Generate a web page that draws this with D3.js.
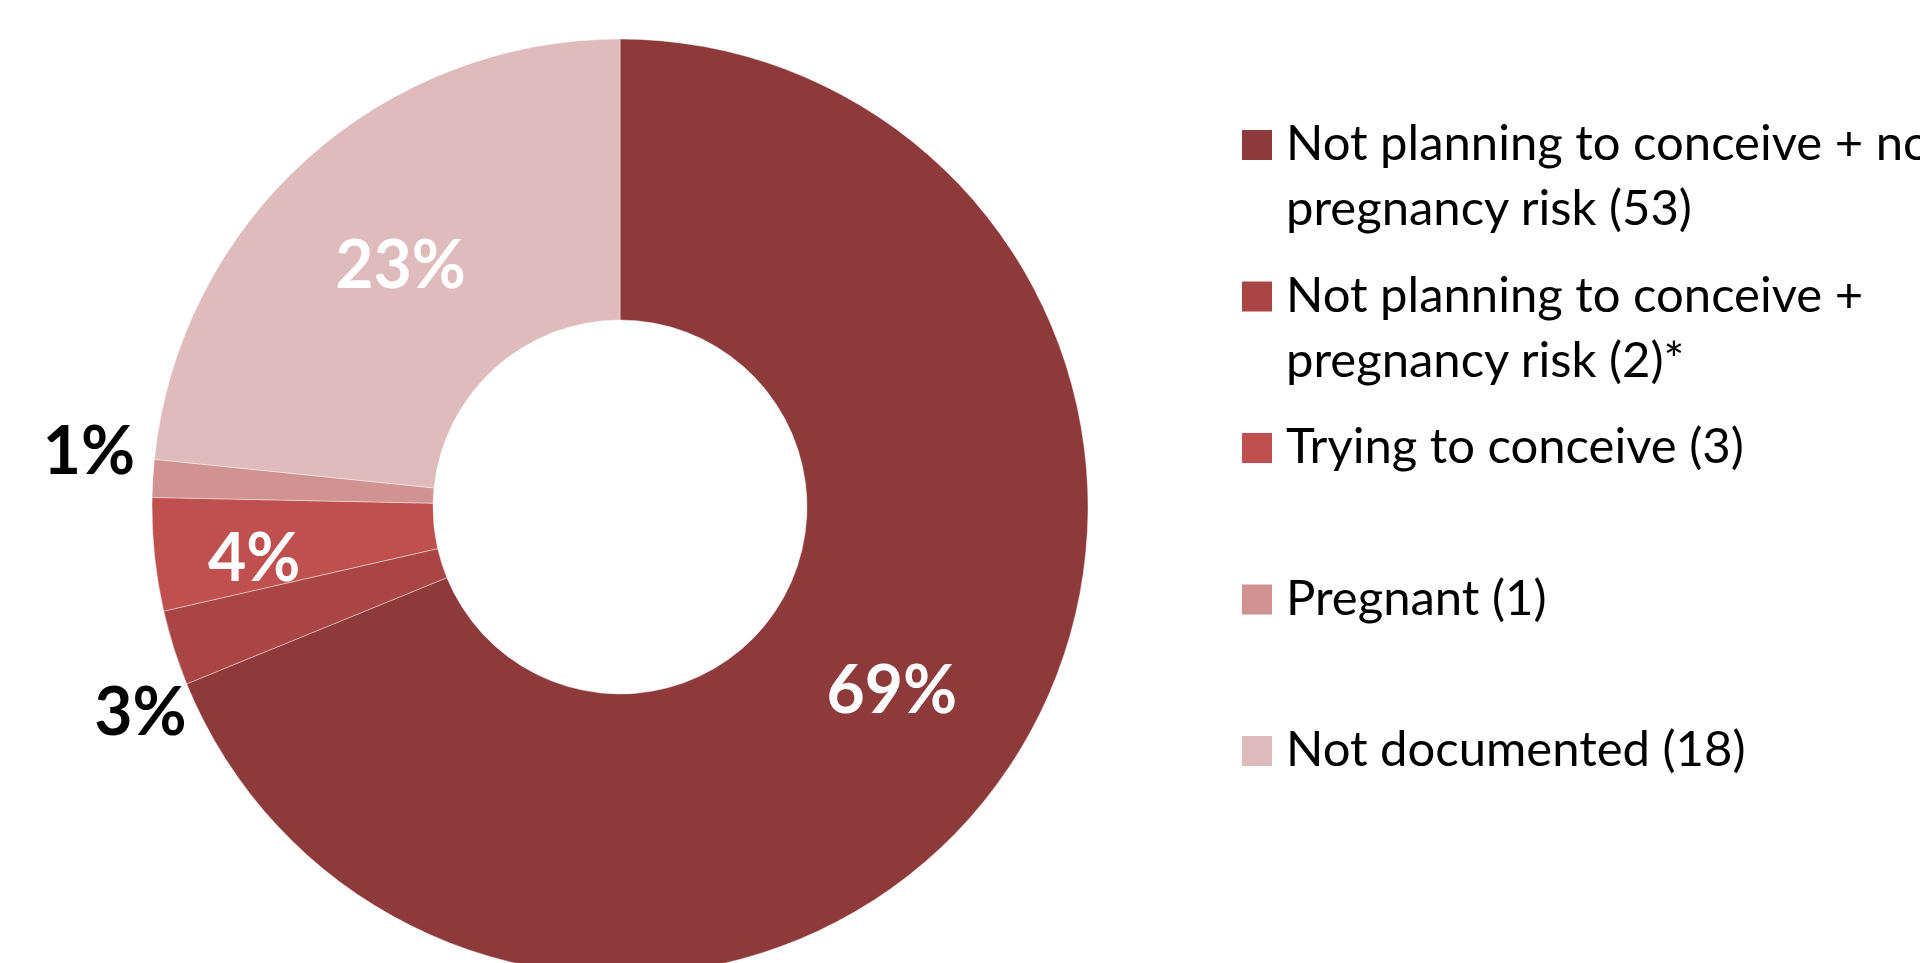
<!DOCTYPE html>
<html><head><meta charset="utf-8">
<script src="https://cdn.jsdelivr.net/npm/d3@7"></script>
<style>html,body{margin:0;padding:0;background:#fff;overflow:hidden}</style>
</head><body><svg id="chart" width="1920" height="963"></svg>
<script>
// ---- data ----
const categories = ["Not planning to conceive + no pregnancy risk", "Not planning to conceive + pregnancy risk", "Trying to conceive", "Pregnant", "Not documented"];
const counts = [53, 2, 3, 1, 18];
const legendLines = [
  ["Not planning to conceive + no", "pregnancy risk (53)"],
  ["Not planning to conceive +", "pregnancy risk (2)*"],
  ["Trying to conceive (3)"],
  ["Pregnant (1)"],
  ["Not documented (18)"]
];
const colors = ["#8F3A3A", "#A94645", "#C0504D", "#D19292", "#E0BBBC"];

// ---- layout / style ----
const cx = 620, cy = 507, rOuter = 468, rInner = 187;
const labelInside = [true, false, true, false, true];
const labelNudge = [[0, 0], [24, 45], [-40, 17], [-4, -24], [0, 0]];
const FONT = "Lato, 'Open Sans', sans-serif";

const svg = d3.select("#chart");
const total = d3.sum(counts);
const pie = d3.pie().sort(null).value(d => d);
const arcs = pie(counts);
const arc = d3.arc().innerRadius(rInner).outerRadius(rOuter);
const outArc = d3.arc().innerRadius(rOuter + 60).outerRadius(rOuter + 60);

const g = svg.append("g").attr("transform", `translate(${cx},${cy})`);
g.selectAll("path.slice").data(arcs).join("path")
  .attr("class", "slice")
  .attr("d", arc)
  .attr("fill", (d, i) => colors[i])
  .attr("stroke", "#ffffff")
  .attr("stroke-opacity", 0.5)
  .attr("stroke-width", 0.8);

g.selectAll("text.pct").data(arcs).join("text")
  .attr("class", "pct")
  .attr("transform", (d, i) => {
    const p = labelInside[i] ? arc.centroid(d) : outArc.centroid(d);
    return `translate(${p[0] + labelNudge[i][0]},${p[1] + labelNudge[i][1]})`;
  })
  .attr("text-anchor", "middle")
  .attr("dy", "0.36em")
  .attr("font-family", FONT)
  .attr("font-weight", 700)
  .attr("font-size", 66)
  .attr("fill", (d, i) => labelInside[i] ? "#ffffff" : "#000000")
  .text(d => Math.round(d.value / total * 100) + "%");

// ---- legend ----
const legendY = d3.scalePoint().domain(d3.range(categories.length)).range([130, 736]);
const lg = svg.append("g");
const items = lg.selectAll("g.item").data(categories).join("g")
  .attr("class", "item")
  .attr("transform", (d, i) => `translate(1242,${legendY(i)})`);
items.append("rect").attr("width", 30).attr("height", 30)
  .attr("fill", (d, i) => colors[i]);
items.each(function (d, i) {
  const t = d3.select(this).append("text")
    .attr("x", 44).attr("y", 30)
    .attr("font-family", FONT)
    .attr("font-size", 49)
    .attr("fill", "#000");
  legendLines[i].forEach((line, j) => {
    t.append("tspan").attr("x", 44).attr("dy", j === 0 ? 0 : 65).text(line);
  });
});
</script>
</body></html>
